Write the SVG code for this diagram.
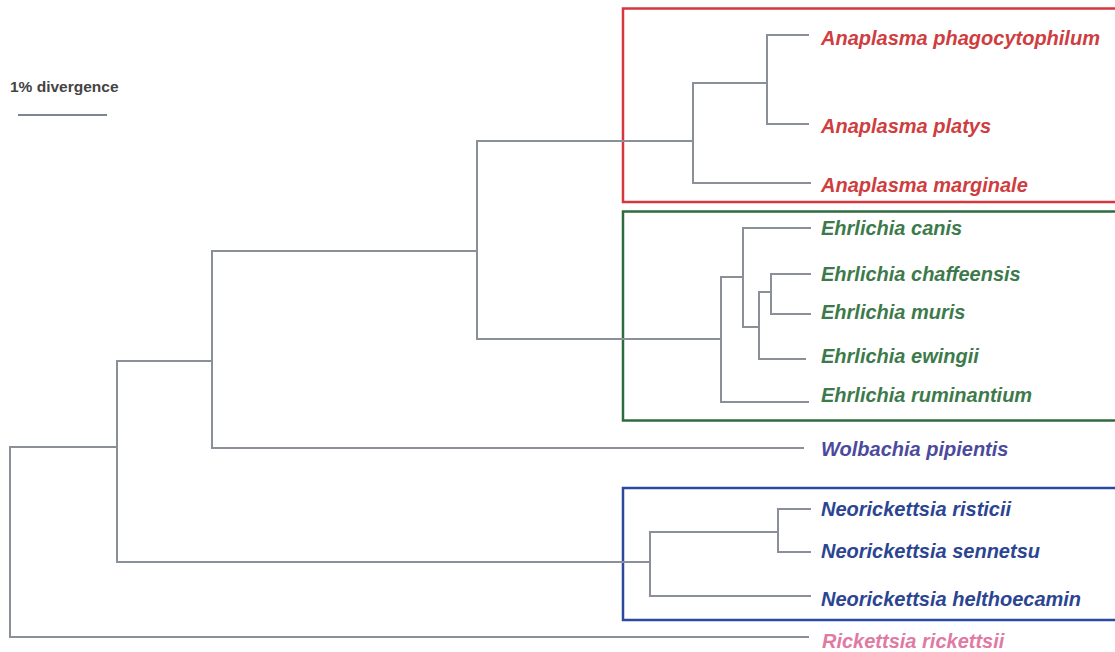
<svg xmlns="http://www.w3.org/2000/svg" width="1115" height="652" viewBox="0 0 1115 652">
<style>
.br{fill:none;stroke:#8a8f99;stroke-width:2;stroke-linecap:square}
.lb{font-family:"Liberation Sans",Arial,sans-serif;font-size:20px;font-weight:bold;font-style:italic}
.ana{fill:#cf3d3f}
.ehr{fill:#3d7a4b}
.wol{fill:#4b4a9c}
.neo{fill:#2b4592}
.ric{fill:#e07aa2}
.box{fill:none;stroke-width:2.5}
</style>
<rect width="1115" height="652" fill="#ffffff"/>
<g id="scale">
<text x="10" y="92" font-family="Liberation Sans,Arial,sans-serif" font-size="15.5" font-weight="bold" fill="#444">1% divergence</text>
<line x1="18" y1="115" x2="107" y2="115" stroke="#7a8595" stroke-width="2"/>
</g>
<g id="boxes">
<rect id="box-anaplasma" class="box" x="623" y="8.5" width="500" height="193.5" stroke="#d5373c"/>
<rect id="box-ehrlichia" class="box" x="623" y="211.5" width="500" height="209" stroke="#2f6b3f"/>
<rect id="box-neorickettsia" class="box" x="623" y="488" width="500" height="132" stroke="#2b4a9e"/>
</g>
<g id="connectors" class="br">
<path d="M10 447V637M10 447H117M10 637H808"/>
<path d="M117 361V562M117 361H212M117 562H650"/>
<path d="M212 251V448M212 251H477M212 448H803"/>
<path d="M477 141V339M477 141H693M477 339H721"/>
<path d="M693 83V183M693 83H767M693 183H810"/>
<path d="M767 35V124M767 35H808M767 124H808"/>
<path d="M721 277V402M721 277H743M721 402H808"/>
<path d="M743 228V327M743 228H810M743 327H759"/>
<path d="M759 292V359M759 292H771M759 359H805"/>
<path d="M771 274V314M771 274H810M771 314H810"/>
<path d="M650 532V596M650 532H778M650 596H810"/>
<path d="M778 509V552M778 509H810M778 552H810"/>
</g>
<g id="anaplasma-phagocytophilum"><text class="lb ana" x="821" y="45">Anaplasma phagocytophilum</text></g>
<g id="anaplasma-platys"><text class="lb ana" x="821" y="133">Anaplasma platys</text></g>
<g id="anaplasma-marginale"><text class="lb ana" x="821" y="192">Anaplasma marginale</text></g>
<g id="ehrlichia-canis"><text class="lb ehr" x="821" y="235">Ehrlichia canis</text></g>
<g id="ehrlichia-chaffeensis"><text class="lb ehr" x="821" y="281">Ehrlichia chaffeensis</text></g>
<g id="ehrlichia-muris"><text class="lb ehr" x="821" y="319">Ehrlichia muris</text></g>
<g id="ehrlichia-ewingii"><text class="lb ehr" x="821" y="363">Ehrlichia ewingii</text></g>
<g id="ehrlichia-ruminantium"><text class="lb ehr" x="821" y="402">Ehrlichia ruminantium</text></g>
<g id="wolbachia-pipientis"><text class="lb wol" x="821" y="456">Wolbachia pipientis</text></g>
<g id="neorickettsia-risticii"><text class="lb neo" x="821" y="516">Neorickettsia risticii</text></g>
<g id="neorickettsia-sennetsu"><text class="lb neo" x="821" y="558">Neorickettsia sennetsu</text></g>
<g id="neorickettsia-helthoecamin"><text class="lb neo" x="821" y="606">Neorickettsia helthoecamin</text></g>
<g id="rickettsia-rickettsii"><text class="lb ric" x="822" y="648" font-weight="normal">Rickettsia rickettsii</text></g>
</svg>
